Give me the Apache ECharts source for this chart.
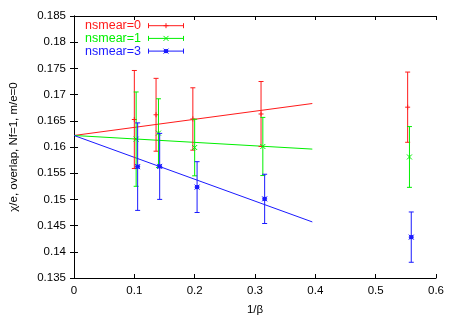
<!DOCTYPE html>
<html>
<head>
<meta charset="utf-8">
<script src="https://cdn.jsdelivr.net/npm/echarts@6/dist/echarts.min.js"></script>
<style>
  html, body { margin: 0; padding: 0; background: #fff; }
  #chart { width: 458px; height: 321px; }
</style>
</head>
<body>
<div id="chart"></div>
<script>
// 1/beta positions (slightly shifted per series, as in the plot)
var beta0 = [0.100, 0.136, 0.197, 0.310, 0.553];
var beta1 = [0.103, 0.140, 0.200, 0.313, 0.556];
var beta3 = [0.1055, 0.142, 0.204, 0.316, 0.559];
// chi/e values and errors
var chi0 = [0.16525, 0.16615, 0.16535, 0.1663, 0.1676];
var err0 = [0.00935, 0.00695, 0.00595, 0.0062, 0.0067];
var chi1 = [0.1615, 0.16265, 0.1599, 0.1601, 0.1581];
var err1 = [0.0090, 0.00655, 0.0054, 0.00555, 0.0058];
var chi3 = [0.15625, 0.1563, 0.15235, 0.1501, 0.1428];
var err3 = [0.00835, 0.0063, 0.00485, 0.0047, 0.0048];
// linear fits
var fitX = [0, 0.395];
var fit0 = [0.1622, 0.1683];
var fit1 = [0.1622, 0.1596];
var fit3 = [0.1622, 0.1457];

var names = ['nsmear=0', 'nsmear=1', 'nsmear=3'];
var marks = ['+', 'x', '*'];
var colors = ['#ff1a1a', '#00f000', '#1a1aff'];

function zip3(a, b, c) {
  return a.map(function (v, i) { return [v, b[i], c[i]]; });
}
function zip2(a, b) {
  return a.map(function (v, i) { return [v, b[i]]; });
}

// marker shapes at (cx, cy)
function markerShapes(kind, cx, cy, col) {
  var st = { stroke: col, lineWidth: 1 };
  var m = 2.5, out = [];
  if (kind === '+' || kind === '*') {
    out.push({ type: 'line', shape: { x1: cx - m, y1: cy, x2: cx + m, y2: cy }, style: st });
  }
  if (kind === '+') {
    out.push({ type: 'line', shape: { x1: cx, y1: cy - m, x2: cx, y2: cy + m }, style: st });
  }
  if (kind === 'x' || kind === '*') {
    out.push({ type: 'line', shape: { x1: cx - m, y1: cy - m, x2: cx + m, y2: cy + m }, style: st });
    out.push({ type: 'line', shape: { x1: cx - m, y1: cy + m, x2: cx + m, y2: cy - m }, style: st });
  }
  if (kind === '*') {
    out.push({ type: 'rect', shape: { x: cx - 2, y: cy - 2, width: 4, height: 4 }, style: { fill: col } });
  }
  return out;
}

// vertical error bar with point marker
function errBar(kind) {
  return function (params, api) {
    var x = api.value(0), y = api.value(1), e = api.value(2);
    var c = api.coord([x, y]);
    var hi = api.coord([x, y + e]);
    var lo = api.coord([x, y - e]);
    var col = api.visual('color');
    var st = { stroke: col, lineWidth: 1 };
    var cw = 2.5;
    var kids = [
      { type: 'line', shape: { x1: hi[0], y1: hi[1], x2: lo[0], y2: lo[1] }, style: st },
      { type: 'line', shape: { x1: hi[0] - cw, y1: hi[1], x2: hi[0] + cw, y2: hi[1] }, style: st },
      { type: 'line', shape: { x1: lo[0] - cw, y1: lo[1], x2: lo[0] + cw, y2: lo[1] }, style: st }
    ].concat(markerShapes(kind, c[0], c[1], col));
    return { type: 'group', children: kids };
  };
}

var font = 'Liberation Sans, Arial, sans-serif';

// key in the top-left corner: label, then horizontal error bar sample
function legendGraphic() {
  var out = [];
  names.forEach(function (n, i) {
    var y = 25.7 + i * 12.7;
    var col = colors[i];
    var st = { stroke: col, lineWidth: 1 };
    out.push({
      type: 'text', x: 141, y: y,
      style: { text: n, fill: col, font: '12.5px ' + font, align: 'right', verticalAlign: 'middle' }
    });
    var kids = [
      { type: 'line', shape: { x1: 148.5, y1: y, x2: 183.5, y2: y }, style: st },
      { type: 'line', shape: { x1: 148.5, y1: y - 2.5, x2: 148.5, y2: y + 2.5 }, style: st },
      { type: 'line', shape: { x1: 183.5, y1: y - 2.5, x2: 183.5, y2: y + 2.5 }, style: st }
    ].concat(markerShapes(marks[i], 166, y, col));
    out.push({ type: 'group', children: kids });
  });
  return out;
}

var frameAxis = {
  axisLine: { show: true, lineStyle: { color: '#000', width: 1 } },
  axisTick: { show: true, inside: true, length: 4, lineStyle: { color: '#000' } },
  splitLine: { show: false }
};

var myChart = echarts.init(document.getElementById('chart'));
var option = {
  animation: false,
  backgroundColor: '#fff',
  textStyle: { fontFamily: font },
  grid: { left: 72, right: 22, top: 16, bottom: 38 },
  graphic: legendGraphic(),
  xAxis: [
    Object.assign({
      type: 'value', min: 0, max: 0.6, interval: 0.1, position: 'bottom',
      name: '1/β', nameLocation: 'middle', nameGap: 26,
      nameTextStyle: { color: '#000', fontSize: 11.5, fontFamily: font },
      axisLabel: { color: '#000', fontSize: 11.5, margin: 7, fontFamily: font }
    }, frameAxis),
    Object.assign({
      type: 'value', min: 0, max: 0.6, interval: 0.1, position: 'top',
      axisLabel: { show: false }
    }, frameAxis)
  ],
  yAxis: [
    Object.assign({
      type: 'value', min: 0.135, max: 0.185, interval: 0.005, position: 'left',
      name: 'χ/e, overlap, Nf=1, m/e=0', nameLocation: 'middle', nameGap: 54,
      nameTextStyle: { color: '#000', fontSize: 11.5, fontFamily: font },
      axisLabel: {
        color: '#000', fontSize: 11.5, margin: 8, fontFamily: font,
        formatter: function (v) { return String(+v.toFixed(3)); }
      }
    }, frameAxis),
    Object.assign({
      type: 'value', min: 0.135, max: 0.185, interval: 0.005, position: 'right',
      axisLabel: { show: false }
    }, frameAxis)
  ],
  series: [
    { name: names[0], type: 'custom', renderItem: errBar(marks[0]), itemStyle: { color: colors[0] },
      data: zip3(beta0, chi0, err0), encode: { x: 0, y: 1 }, z: 3 },
    { name: names[1], type: 'custom', renderItem: errBar(marks[1]), itemStyle: { color: colors[1] },
      data: zip3(beta1, chi1, err1), encode: { x: 0, y: 1 }, z: 3 },
    { name: names[2], type: 'custom', renderItem: errBar(marks[2]), itemStyle: { color: colors[2] },
      data: zip3(beta3, chi3, err3), encode: { x: 0, y: 1 }, z: 3 },
    { type: 'line', data: zip2(fitX, fit0), showSymbol: false, silent: true,
      lineStyle: { color: colors[0], width: 1 }, z: 2 },
    { type: 'line', data: zip2(fitX, fit1), showSymbol: false, silent: true,
      lineStyle: { color: colors[1], width: 1 }, z: 2 },
    { type: 'line', data: zip2(fitX, fit3), showSymbol: false, silent: true,
      lineStyle: { color: colors[2], width: 1 }, z: 2 }
  ]
};
myChart.setOption(option);
</script>
</body>
</html>
